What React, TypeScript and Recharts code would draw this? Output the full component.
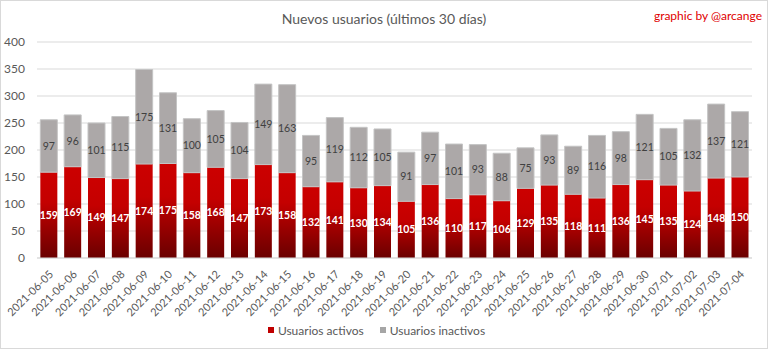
import React from "react";
import { BarChart, Bar, XAxis, YAxis, CartesianGrid, Legend, LabelList } from "recharts";

const dates = [
  "2021-06-05","2021-06-06","2021-06-07","2021-06-08","2021-06-09","2021-06-10","2021-06-11","2021-06-12","2021-06-13","2021-06-14",
  "2021-06-15","2021-06-16","2021-06-17","2021-06-18","2021-06-19","2021-06-20","2021-06-21","2021-06-22","2021-06-23","2021-06-24",
  "2021-06-25","2021-06-26","2021-06-27","2021-06-28","2021-06-29","2021-06-30","2021-07-01","2021-07-02","2021-07-03","2021-07-04",
];
const activos = [159,169,149,147,174,175,158,168,147,173,158,132,141,130,134,105,136,110,117,106,129,135,118,111,136,145,135,124,148,150];
const inactivos = [97,96,101,115,175,131,100,105,104,149,163,95,119,112,105,91,97,101,93,88,75,93,89,116,98,121,105,132,137,121];
const yTicks = [0,50,100,150,200,250,300,350,400];

const data = dates.map((d, i) => ({ date: d, activos: activos[i], inactivos: inactivos[i] }));

const FONT = "Lato, 'Open Sans', sans-serif";

const XTick = (props: any) => {
  const { x, y, payload } = props;
  const tx = x + 5;
  const ty = y + 9;
  return (
    <text x={tx} y={ty} transform={`rotate(-45, ${tx}, ${ty})`} textAnchor="end" fontSize={11} fill="#595959" fontFamily={FONT}>
      {payload.value}
    </text>
  );
};

const LegendContent = () => (
  <div style={{ display: "flex", justifyContent: "center", alignItems: "center", fontFamily: FONT, fontSize: 12, color: "#595959", height: 20 }}>
    <span style={{ display: "inline-block", width: 6, height: 6, background: "#c00000", marginRight: 4 }} />
    <span style={{ marginRight: 16 }}>Usuarios activos</span>
    <span style={{ display: "inline-block", width: 6, height: 6, background: "#a6a6a6", marginRight: 4 }} />
    <span>Usuarios inactivos</span>
  </div>
);

export default function App() {
  return (
    <div style={{ position: "absolute", left: 0, top: 0, width: 768, height: 349, border: "1px solid #d9d9d9", boxSizing: "border-box", background: "#fff", fontFamily: FONT }}>
      <svg width={0} height={0} style={{ position: "absolute" }}>
        <defs>
          <linearGradient id="redGrad" x1="0" y1="0" x2="0" y2="1">
            <stop offset="0%" stopColor="#cc0000" />
            <stop offset="35%" stopColor="#c40000" />
            <stop offset="100%" stopColor="#6a0000" />
          </linearGradient>
        </defs>
      </svg>
      <div style={{ position: "absolute", top: 9, left: 0, width: 766, textAlign: "center", fontSize: 14, color: "#595959" }}>
        Nuevos usuarios (últimos 30 días)
      </div>
      <div style={{ position: "absolute", top: 7, right: 5, fontSize: 12, color: "#e00000" }}>
        graphic by @arcange
      </div>
      <BarChart
        width={766}
        height={347}
        data={data}
        margin={{ top: 41, right: 15, left: 0, bottom: 8 }}
        barCategoryGap="14%"
      >
        <CartesianGrid vertical={false} stroke="#d9d9d9" />
        <XAxis
          dataKey="date"
          interval={0}
          height={62}
          tick={<XTick />}
          tickLine={false}
          axisLine={{ stroke: "#d9d9d9" }}
        />
        <YAxis
          domain={[0, 400]}
          ticks={yTicks}
          width={36}
          axisLine={false}
          tickLine={false}
          tick={{ fontSize: 12, fill: "#595959", fontFamily: FONT }}
          tickMargin={6}
        />
        <Legend verticalAlign="bottom" content={<LegendContent />} />
        <Bar dataKey="activos" stackId="a" fill="url(#redGrad)" name="Usuarios activos" isAnimationActive={false}>
          <LabelList dataKey="activos" position="center" fill="#ffffff" fontSize={10.5} fontWeight="bold" fontFamily={FONT} />
        </Bar>
        <Bar dataKey="inactivos" stackId="a" fill="#aca8a8" stroke="#c4c4c4" strokeWidth={1} name="Usuarios inactivos" isAnimationActive={false}>
          <LabelList dataKey="inactivos" position="center" fill="#404040" fontSize={10.5} fontFamily={FONT} />
        </Bar>
      </BarChart>
    </div>
  );
}
